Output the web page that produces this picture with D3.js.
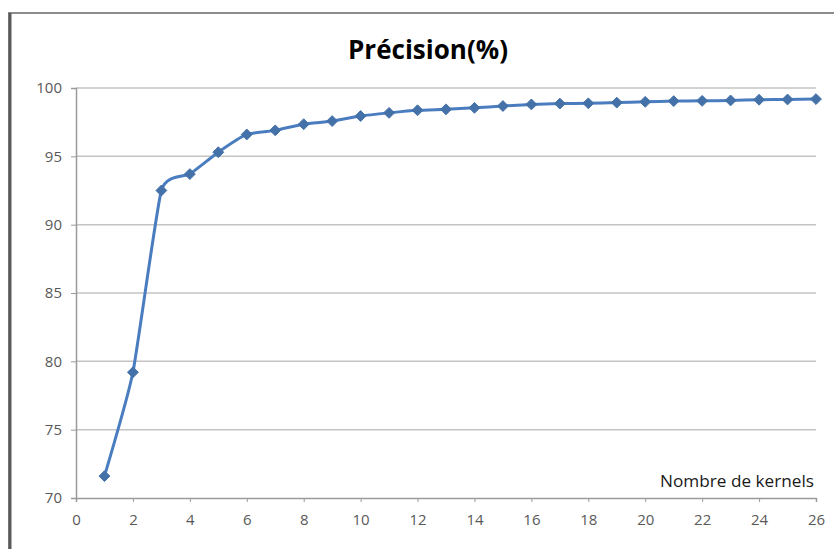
<!DOCTYPE html>
<html><head><meta charset="utf-8">
<script src="https://cdn.jsdelivr.net/npm/d3@7"></script>
<style>body{margin:0;background:#fff}svg{display:block}</style>
</head><body>
<svg id="c" width="834" height="549"></svg>
<script>
const kernels = [1,2,3,4,5,6,7,8,9,10,11,12,13,14,15,16,17,18,19,20,21,22,23,24,25,26];
const precision = [71.6,79.2,92.5,93.7,95.3,96.6,96.9,97.35,97.58,97.95,98.18,98.37,98.44,98.55,98.68,98.8,98.86,98.88,98.93,98.99,99.04,99.06,99.09,99.14,99.16,99.19];
const xTicks = [0,2,4,6,8,10,12,14,16,18,20,22,24,26];
const yTicks = [70,75,80,85,90,95,100];
const title = "Précision(%)";
const xLabel = "Nombre de kernels";

const svg = d3.select("#c");
const W = 834, H = 549;
const m = {left:76, right:W-816, top:88, bottom:H-498};
const x = d3.scaleLinear().domain([0,26]).range([m.left, W-m.right]);
const y = d3.scaleLinear().domain([70,100]).range([H-m.bottom, m.top]);
const FONT = "'Open Sans', 'Liberation Sans', sans-serif";

// outer frame
svg.append("rect").attr("x",9).attr("y",13).attr("width",W+20).attr("height",H+20)
  .attr("fill","#fff").attr("stroke","#8c8c8c").attr("stroke-width",2);
svg.append("line").attr("x1",10).attr("x2",10).attr("y1",13).attr("y2",H)
  .attr("stroke","#5a5a5a").attr("stroke-width",3);

// gridlines
svg.append("g").selectAll("line").data(yTicks.filter(d=>d>70)).join("line")
  .attr("x1",x(0)).attr("x2",x(26)).attr("y1",d=>y(d)).attr("y2",d=>y(d))
  .attr("stroke","#c4c4c4").attr("stroke-width",1.5);

// axes
const yAxis = svg.append("g").attr("transform",`translate(${x(0)},0)`)
  .call(d3.axisLeft(y).tickValues(yTicks).tickSize(5).tickPadding(9));
const xAxis = svg.append("g").attr("transform",`translate(0,${y(70)})`)
  .call(d3.axisBottom(x).tickValues(xTicks).tickSize(4).tickPadding(12));
[yAxis,xAxis].forEach(g=>{
  g.select(".domain").attr("stroke","#9a9a9a").attr("stroke-width",1.5);
  g.selectAll(".tick line").attr("stroke","#9a9a9a");
  g.selectAll("text").attr("fill","#595959").style("font-family",FONT).style("font-size","15px");
});

// line
const line = d3.line().x((d,i)=>x(kernels[i])).y(d=>y(d)).curve(d3.curveCardinal.tension(0.5));
svg.append("path").datum(precision).attr("d",line)
  .attr("fill","none").attr("stroke","#4a7dbf").attr("stroke-width",3).attr("stroke-linejoin","round");

// markers
svg.append("g").selectAll("path").data(precision).join("path")
  .attr("transform",(d,i)=>`translate(${x(kernels[i])},${y(d)})`)
  .attr("d", d3.symbol(d3.symbolDiamond2, 75)())
  .attr("fill","#4472a8").attr("stroke","#4472a8").attr("stroke-width",1);

function fitText(sel, target){
  const fs = parseFloat(sel.style("font-size"));
  const w = sel.node().getComputedTextLength();
  if (w>0) sel.style("font-size", (fs*target/w).toFixed(2)+"px");
}
// title
const t = svg.append("text").attr("x",428).attr("y",59).attr("text-anchor","middle")
  .style("font-family",FONT).style("font-weight","bold").style("font-size","26px")
  .attr("fill","#000").text(title);
fitText(t,160);

// x label
const xl = svg.append("text").attr("x",814).attr("y",487).attr("text-anchor","end")
  .style("font-family",FONT).style("font-size","14px")
  .attr("fill","#1a1a1a").text(xLabel);
fitText(xl,154);
</script>
</body></html>
